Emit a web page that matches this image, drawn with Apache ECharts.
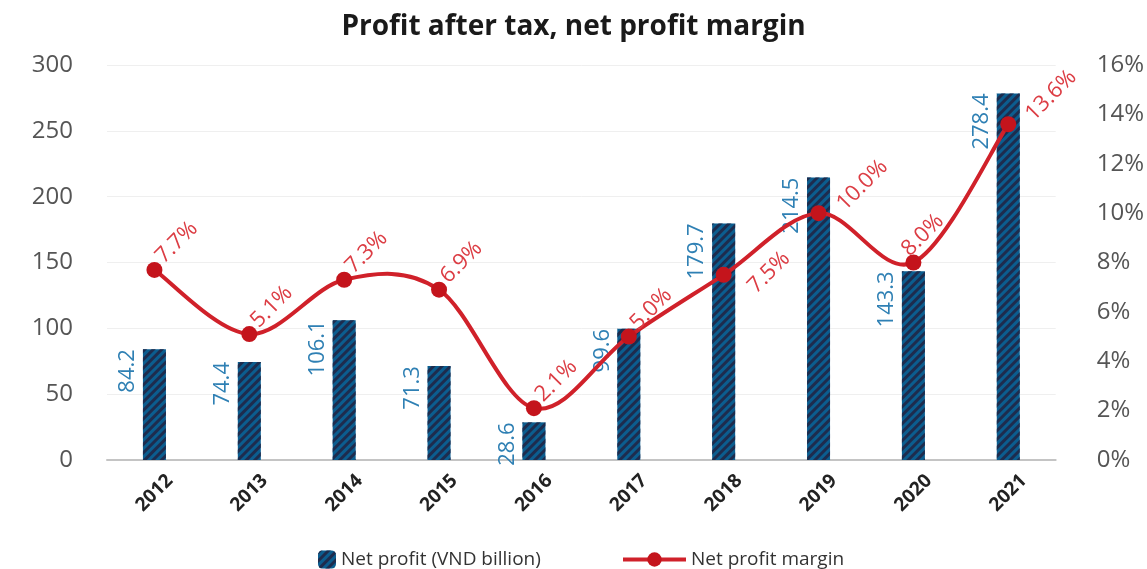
<!DOCTYPE html>
<html>
<head>
<meta charset="utf-8">
<script src="https://cdn.jsdelivr.net/npm/echarts@6/dist/echarts.min.js"></script>
<style>
html,body{margin:0;padding:0;background:#fff;}
#c{width:1147px;height:569px;}
</style>
</head>
<body>
<div id="c"></div>
<script>
const years = ['2012','2013','2014','2015','2016','2017','2018','2019','2020','2021'];
const netProfit = [84.2, 74.4, 106.1, 71.3, 28.6, 99.6, 179.7, 214.5, 143.3, 278.4];
const margin = [7.7, 5.1, 7.3, 6.9, 2.1, 5.0, 7.5, 10.0, 8.0, 13.6];
const leftTicks = {min: 0, max: 300, interval: 50};
const rightTicks = {min: 0, max: 16, interval: 2};
// label shifts (px) for a few margin labels that sit off the default spot
const labelShift = {'2018': [23, 25], '2019': [17, 4], '2020': [-13, 0], '2021': [16, 3]};

const FONT = '"Open Sans", "Noto Sans", sans-serif';
const LINE_COLOR = '#d0212a';
const chart = echarts.init(document.getElementById('c'));
const base = [13, -2];

const marginData = margin.map((v, i) => {
  const s = labelShift[years[i]] || [0, 0];
  return { value: v, label: { position: [base[0] + s[0], base[1] + s[1]] } };
});

// Smooth curve (Catmull-Rom style Bezier) through the points, positioned by the axes
function renderCurve(params, api) {
  if (params.dataIndex !== 0) return null;
  const pts = margin.map((v, i) => api.coord([i, v]));
  const n = pts.length;
  let d = 'M' + pts[0][0] + ' ' + pts[0][1];
  for (let i = 0; i < n - 1; i++) {
    const p0 = pts[Math.max(0, i - 1)], p1 = pts[i], p2 = pts[i + 1], p3 = pts[Math.min(n - 1, i + 2)];
    const c1x = p1[0] + (p2[0] - p0[0]) / 6, c1y = p1[1] + (p2[1] - p0[1]) / 6;
    const c2x = p2[0] - (p3[0] - p1[0]) / 6, c2y = p2[1] - (p3[1] - p1[1]) / 6;
    d += ' C' + c1x + ' ' + c1y + ' ' + c2x + ' ' + c2y + ' ' + p2[0] + ' ' + p2[1];
  }
  return {
    type: 'path',
    shape: {pathData: d},
    style: {fill: null, stroke: LINE_COLOR, lineWidth: 4}
  };
}

chart.setOption({
  animation: false,
  title: {
    text: 'Profit after tax, net profit margin',
    left: 'center', top: 8,
    textStyle: {fontFamily: FONT, fontWeight: 'bold', fontSize: 28, color: '#1a1a1a'}
  },
  legend: [
    {
      data: ['Net profit (VND billion)'],
      left: 313, top: 545,
      itemWidth: 18, itemHeight: 18, itemGap: 6,
      textStyle: {fontFamily: FONT, fontSize: 19, color: '#333'}
    },
    {
      data: [{name: 'Net profit margin', lineStyle: {opacity: 1, color: LINE_COLOR, width: 4}}],
      left: 616, top: 545,
      itemWidth: 63, itemHeight: 18,
      textStyle: {fontFamily: FONT, fontSize: 19, color: '#333'}
    }
  ],
  grid: {left: 107, right: 90, top: 65, bottom: 109, containLabel: false},
  xAxis: {
    type: 'category',
    data: years,
    axisTick: {show: false},
    axisLine: {lineStyle: {color: '#c4c4c4', width: 2}},
    axisLabel: {
      rotate: 45, margin: 33, align: 'center', verticalAlign: 'middle',
      fontFamily: FONT, fontWeight: 'bold', fontSize: 19, color: '#222'
    }
  },
  yAxis: [
    {
      type: 'value', min: leftTicks.min, max: leftTicks.max, interval: leftTicks.interval,
      axisLine: {show: false}, axisTick: {show: false},
      splitLine: {lineStyle: {color: '#efefef', width: 1}},
      axisLabel: {margin: 34, fontFamily: FONT, fontSize: 24, color: '#555'}
    },
    {
      type: 'value', min: rightTicks.min, max: rightTicks.max, interval: rightTicks.interval,
      axisLine: {show: false}, axisTick: {show: false},
      splitLine: {show: false},
      axisLabel: {margin: 41, formatter: '{value}%', fontFamily: FONT, fontSize: 24, color: '#555'}
    }
  ],
  series: [
    {
      name: 'Net profit (VND billion)',
      type: 'bar',
      data: netProfit,
      barWidth: 23,
      yAxisIndex: 0,
      itemStyle: {
        color: '#0b5d8f',
        decal: {
          symbol: 'rect', symbolSize: 1,
          dashArrayX: [1, 0], dashArrayY: [3, 3],
          rotation: -Math.PI / 4,
          color: '#1d2c4e'
        }
      },
      label: {
        show: true, position: [-4, 0], rotate: 90,
        align: 'right', verticalAlign: 'bottom',
        fontFamily: FONT, fontSize: 22, color: '#2f80b4',
        formatter: p => p.value.toFixed(1)
      }
    },
    {
      name: 'Net profit margin curve',
      type: 'custom',
      yAxisIndex: 1,
      data: margin,
      renderItem: renderCurve,
      silent: true,
      z: 4
    },
    {
      name: 'Net profit margin',
      type: 'line',
      data: marginData,
      yAxisIndex: 1,
      symbol: 'circle', symbolSize: 16,
      lineStyle: {color: LINE_COLOR, width: 4, opacity: 0},
      itemStyle: {color: '#c4141c'},
      label: {
        show: true, rotate: 45, align: 'left', verticalAlign: 'middle',
        fontFamily: FONT, fontSize: 22, color: '#dc3d44',
        formatter: p => p.value.toFixed(1) + '%'
      },
      z: 5
    }
  ]
});
</script>
</body>
</html>
